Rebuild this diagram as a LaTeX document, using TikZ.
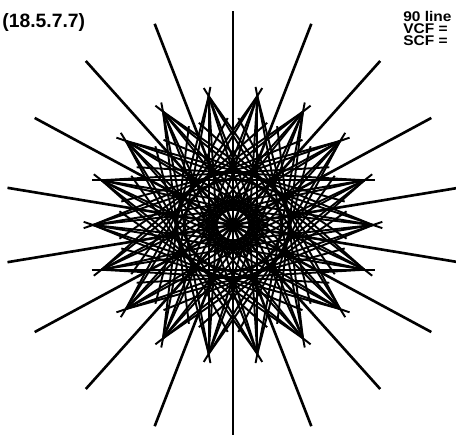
\documentclass[tikz,border=0pt]{standalone}
\usepackage{fontspec}
\setmainfont{Liberation Sans}

\tikzset{
    starline/.style={line width=1.1pt, line cap=butt},
    rayline/.style={line width=1.5pt},
    labeltext/.style={font=\fontsize{11}{13}\selectfont\bfseries, inner sep=0pt},
    infotext/.style={font=\fontsize{8}{9}\selectfont\bfseries, inner sep=0pt}
}

\begin{document}
\begin{tikzpicture}[x=0.02cm, y=0.02cm]

    % ==========================================
    % Frame (pixel coordinates, y downwards)
    % ==========================================
    \useasboundingbox (0,0) rectangle (456,-435);
    \clip (0,0) rectangle (456,-435);

    % ==========================================
    % Labels
    % ==========================================
    \node[labeltext, anchor=base west] (name) at (2,-28) {(18.5.7.7)};
    \node[infotext, anchor=base west] (lines) at (403,-21.5) {\scalebox{1.1}[1]{90 line}};
    \node[infotext, anchor=base west] (vcf) at (403,-33.5) {\scalebox{1.1}[1]{VCF =}};
    \node[infotext, anchor=base west] (scf) at (403,-45.5) {\scalebox{1.1}[1]{SCF =}};

    % ==========================================
    % The arrangement
    % ==========================================
    \begin{scope}[shift={(233,-225)}, yscale=0.935]
        % long lines through the centre
        \foreach \a in {10,30,...,170}
            \draw[rayline, rotate=\a] (-229,0) -- (229,0);

        % outer star {18/7}, crossing past the tips
        \foreach \a in {10,30,...,350}
            \draw[starline, rotate=\a] (47.9,-141.5) -- (47.9,141.5);

        % star {18/8} through the same tips
        \foreach \a in {0,20,...,340}
            \draw[starline, rotate=\a] (24.3,-137.9) -- (24.3,137.9);

        % lines leaving the tips, both hands
        \foreach \a in {0,20,...,340} {
            \draw[starline, rotate=\a+66.5] (55.8,-128.4) -- (55.8,100);
            \draw[starline, rotate=\a-66.5] (55.8,128.4) -- (55.8,-100);
            \draw[starline, rotate=\a+83.3] (16.3,-139) -- (16.3,30);
            \draw[starline, rotate=\a-83.3] (16.3,139) -- (16.3,-30);
        }
    \end{scope}

\end{tikzpicture}
\end{document}
